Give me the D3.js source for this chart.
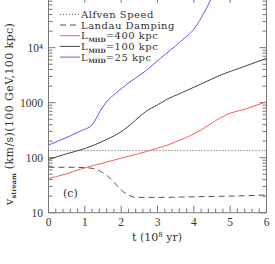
<!DOCTYPE html>
<html>
<head>
<meta charset="utf-8">
<script src="https://cdn.jsdelivr.net/npm/d3@7"></script>
<style>
  body { margin: 0; background: #fff; }
  svg { display: block; }
  text { font-family: "DejaVu Serif", serif; fill: #333; }
</style>
</head>
<body>
<div id="grafico"></div>
<script>
// datos (t en 1e8 yr, v en km/s)
const alfven = [[0, 135], [6, 135]];
const landau = [[0, 67], [0.5, 67], [1.0, 66], [1.2, 64], [1.4, 58], [1.6, 48], [1.8, 36], [2.0, 26],
  [2.2, 21], [2.4, 19], [3, 19], [4, 19.5], [5, 20], [6, 21]];
const lmhd400 = [[0, 42], [0.5, 51], [0.88, 62], [1.5, 80], [2, 98], [2.67, 128], [3, 148], [3.63, 210],
  [4.2, 319], [4.55, 450], [4.88, 597], [5.48, 791], [6, 1042]];
const lmhd100 = [[0, 93], [0.5, 118], [1.02, 148], [1.57, 210], [2.07, 319], [2.4, 484], [2.67, 686],
  [3.0, 910], [3.26, 1150], [3.63, 1480], [4.2, 2190], [4.73, 3170], [5.3, 4340], [6, 6410]];
const lmhd25 = [[0, 170], [0.3, 205], [0.6, 250], [0.9, 310], [1.2, 394], [1.42, 700], [1.62, 1080],
  [1.85, 1480], [2.2, 2280], [2.67, 3770], [3.08, 6410], [3.63, 12900], [4.05, 24000], [4.27, 42000],
  [4.46, 73600], [4.6, 120000]];

const xTicks = [0, 1, 2, 3, 4, 5, 6];
const yTicks = [10, 100, 1000, 10000];
const yLabels = ["10", "100", "1000", "10⁴"];

const series = [
  { datos: alfven, nombre: "Alfven Speed", color: "#555", dash: "1,2", sub: null },
  { datos: landau, nombre: "Landau Damping", color: "#555", dash: "6,4", sub: null },
  { datos: lmhd400, nombre: "=400 kpc", color: "#ff5a5a", dash: null, sub: "MHD" },
  { datos: lmhd100, nombre: "=100 kpc", color: "#444", dash: null, sub: "MHD" },
  { datos: lmhd25, nombre: "=25 kpc", color: "#5a5aff", dash: null, sub: "MHD" }
];

const ancho = 275, alto = 264;
const izq = 48.5, der = 266.5, abajo = 212.7, decada = 55;

const x = d3.scaleLinear().domain([0, 6]).range([izq, der]);
const y = d3.scaleLog().domain([10, 1e5]).range([abajo, abajo - 4 * decada]);

const $svg = d3.select("#grafico").append("svg")
  .attr("width", ancho)
  .attr("height", alto);

$svg.append("defs").append("clipPath").attr("id", "recorte")
  .append("rect")
  .attr("x", izq).attr("y", y(1e5))
  .attr("width", der - izq).attr("height", abajo - y(1e5));

// marco
$svg.append("rect")
  .attr("x", izq).attr("y", y(1e5))
  .attr("width", der - izq).attr("height", abajo - y(1e5))
  .attr("fill", "none").attr("stroke", "#777").attr("stroke-width", 1);

// ticks del eje x (abajo y arriba)
const xMenores = d3.range(0, 6.01, 0.2);
xMenores.forEach(t => {
  const mayor = Math.abs(t - Math.round(t)) < 1e-6;
  const largo = mayor ? 7 : 4;
  $svg.append("line").attr("x1", x(t)).attr("x2", x(t))
    .attr("y1", abajo).attr("y2", abajo - largo).attr("stroke", "#777");
  $svg.append("line").attr("x1", x(t)).attr("x2", x(t))
    .attr("y1", y(1e5)).attr("y2", y(1e5) + largo + 3).attr("stroke", "#777");
});

// ticks del eje y (izquierda y derecha)
for (let e = 1; e < 5; e++) {
  for (let m = 1; m < 10; m++) {
    const v = m * Math.pow(10, e);
    const largo = m === 1 ? 7 : 4;
    $svg.append("line").attr("x1", izq).attr("x2", izq + largo)
      .attr("y1", y(v)).attr("y2", y(v)).attr("stroke", "#777");
    $svg.append("line").attr("x1", der).attr("x2", der - largo)
      .attr("y1", y(v)).attr("y2", y(v)).attr("stroke", "#777");
  }
}

// etiquetas de ticks
$svg.selectAll(".xlab").data(xTicks).enter().append("text")
  .attr("x", d => x(d)).attr("y", 225.5)
  .attr("text-anchor", "middle")
  .style("font-family", "'Liberation Serif', serif")
  .attr("font-size", 11.5)
  .text(d => d);

$svg.selectAll(".ylab").data(yTicks).enter().append("text")
  .attr("x", 43).attr("y", d => y(d) + 3.8)
  .attr("text-anchor", "end")
  .style("font-family", "'Liberation Serif', serif")
  .attr("font-size", 11.5)
  .text((d, i) => yLabels[i]);

// curvas
const linea = d3.line()
  .x(d => x(d[0]))
  .y(d => y(d[1]))
  .curve(d3.curveMonotoneX);

const g = $svg.append("g").attr("clip-path", "url(#recorte)");
series.forEach(s => {
  g.append("path")
    .attr("d", linea(s.datos))
    .attr("fill", "none")
    .attr("stroke", s.color)
    .attr("stroke-width", 1)
    .attr("stroke-dasharray", s.dash);
});

// leyenda
series.forEach((s, i) => {
  const yy = 14.3 + i * 10.7;
  $svg.append("line")
    .attr("x1", 60).attr("x2", 80)
    .attr("y1", yy).attr("y2", yy)
    .attr("stroke", s.color)
    .attr("stroke-dasharray", s.dash);
  const t = $svg.append("text")
    .attr("x", 81).attr("y", yy + 3.7)
    .attr("font-size", 10)
    .attr("letter-spacing", 0.5);
  if (s.sub) {
    t.append("tspan").text("L");
    t.append("tspan").attr("font-size", 6).attr("font-weight", "bold").attr("letter-spacing", 0).attr("dy", 2.5).text(s.sub);
    t.append("tspan").attr("dy", -2.5).text(s.nombre);
  } else {
    t.text(s.nombre);
  }
});

// (c)
$svg.append("text")
  .attr("x", 63).attr("y", 197)
  .attr("font-size", 11)
  .text("(c)");

// titulo eje x
const tx = $svg.append("text")
  .attr("x", 157).attr("y", 241)
  .attr("text-anchor", "middle")
  .attr("font-size", 11);
tx.append("tspan").text("t (10");
tx.append("tspan").attr("font-size", 7).attr("dy", -4).text("8");
tx.append("tspan").attr("dy", 4).text(" yr)");

// titulo eje y
const ty = $svg.append("text")
  .attr("transform", "translate(13,205) rotate(-90)")
  .attr("font-size", 11)
  .attr("letter-spacing", 0.4);
ty.append("tspan").text("v");
ty.append("tspan").attr("font-size", 6.5).attr("font-weight", "bold").attr("letter-spacing", 0).attr("dy", 2.5).text("stream");
ty.append("tspan").attr("dy", -2.5).text(" (km/s)(100 GeV,100 kpc)");
</script>
</body>
</html>
